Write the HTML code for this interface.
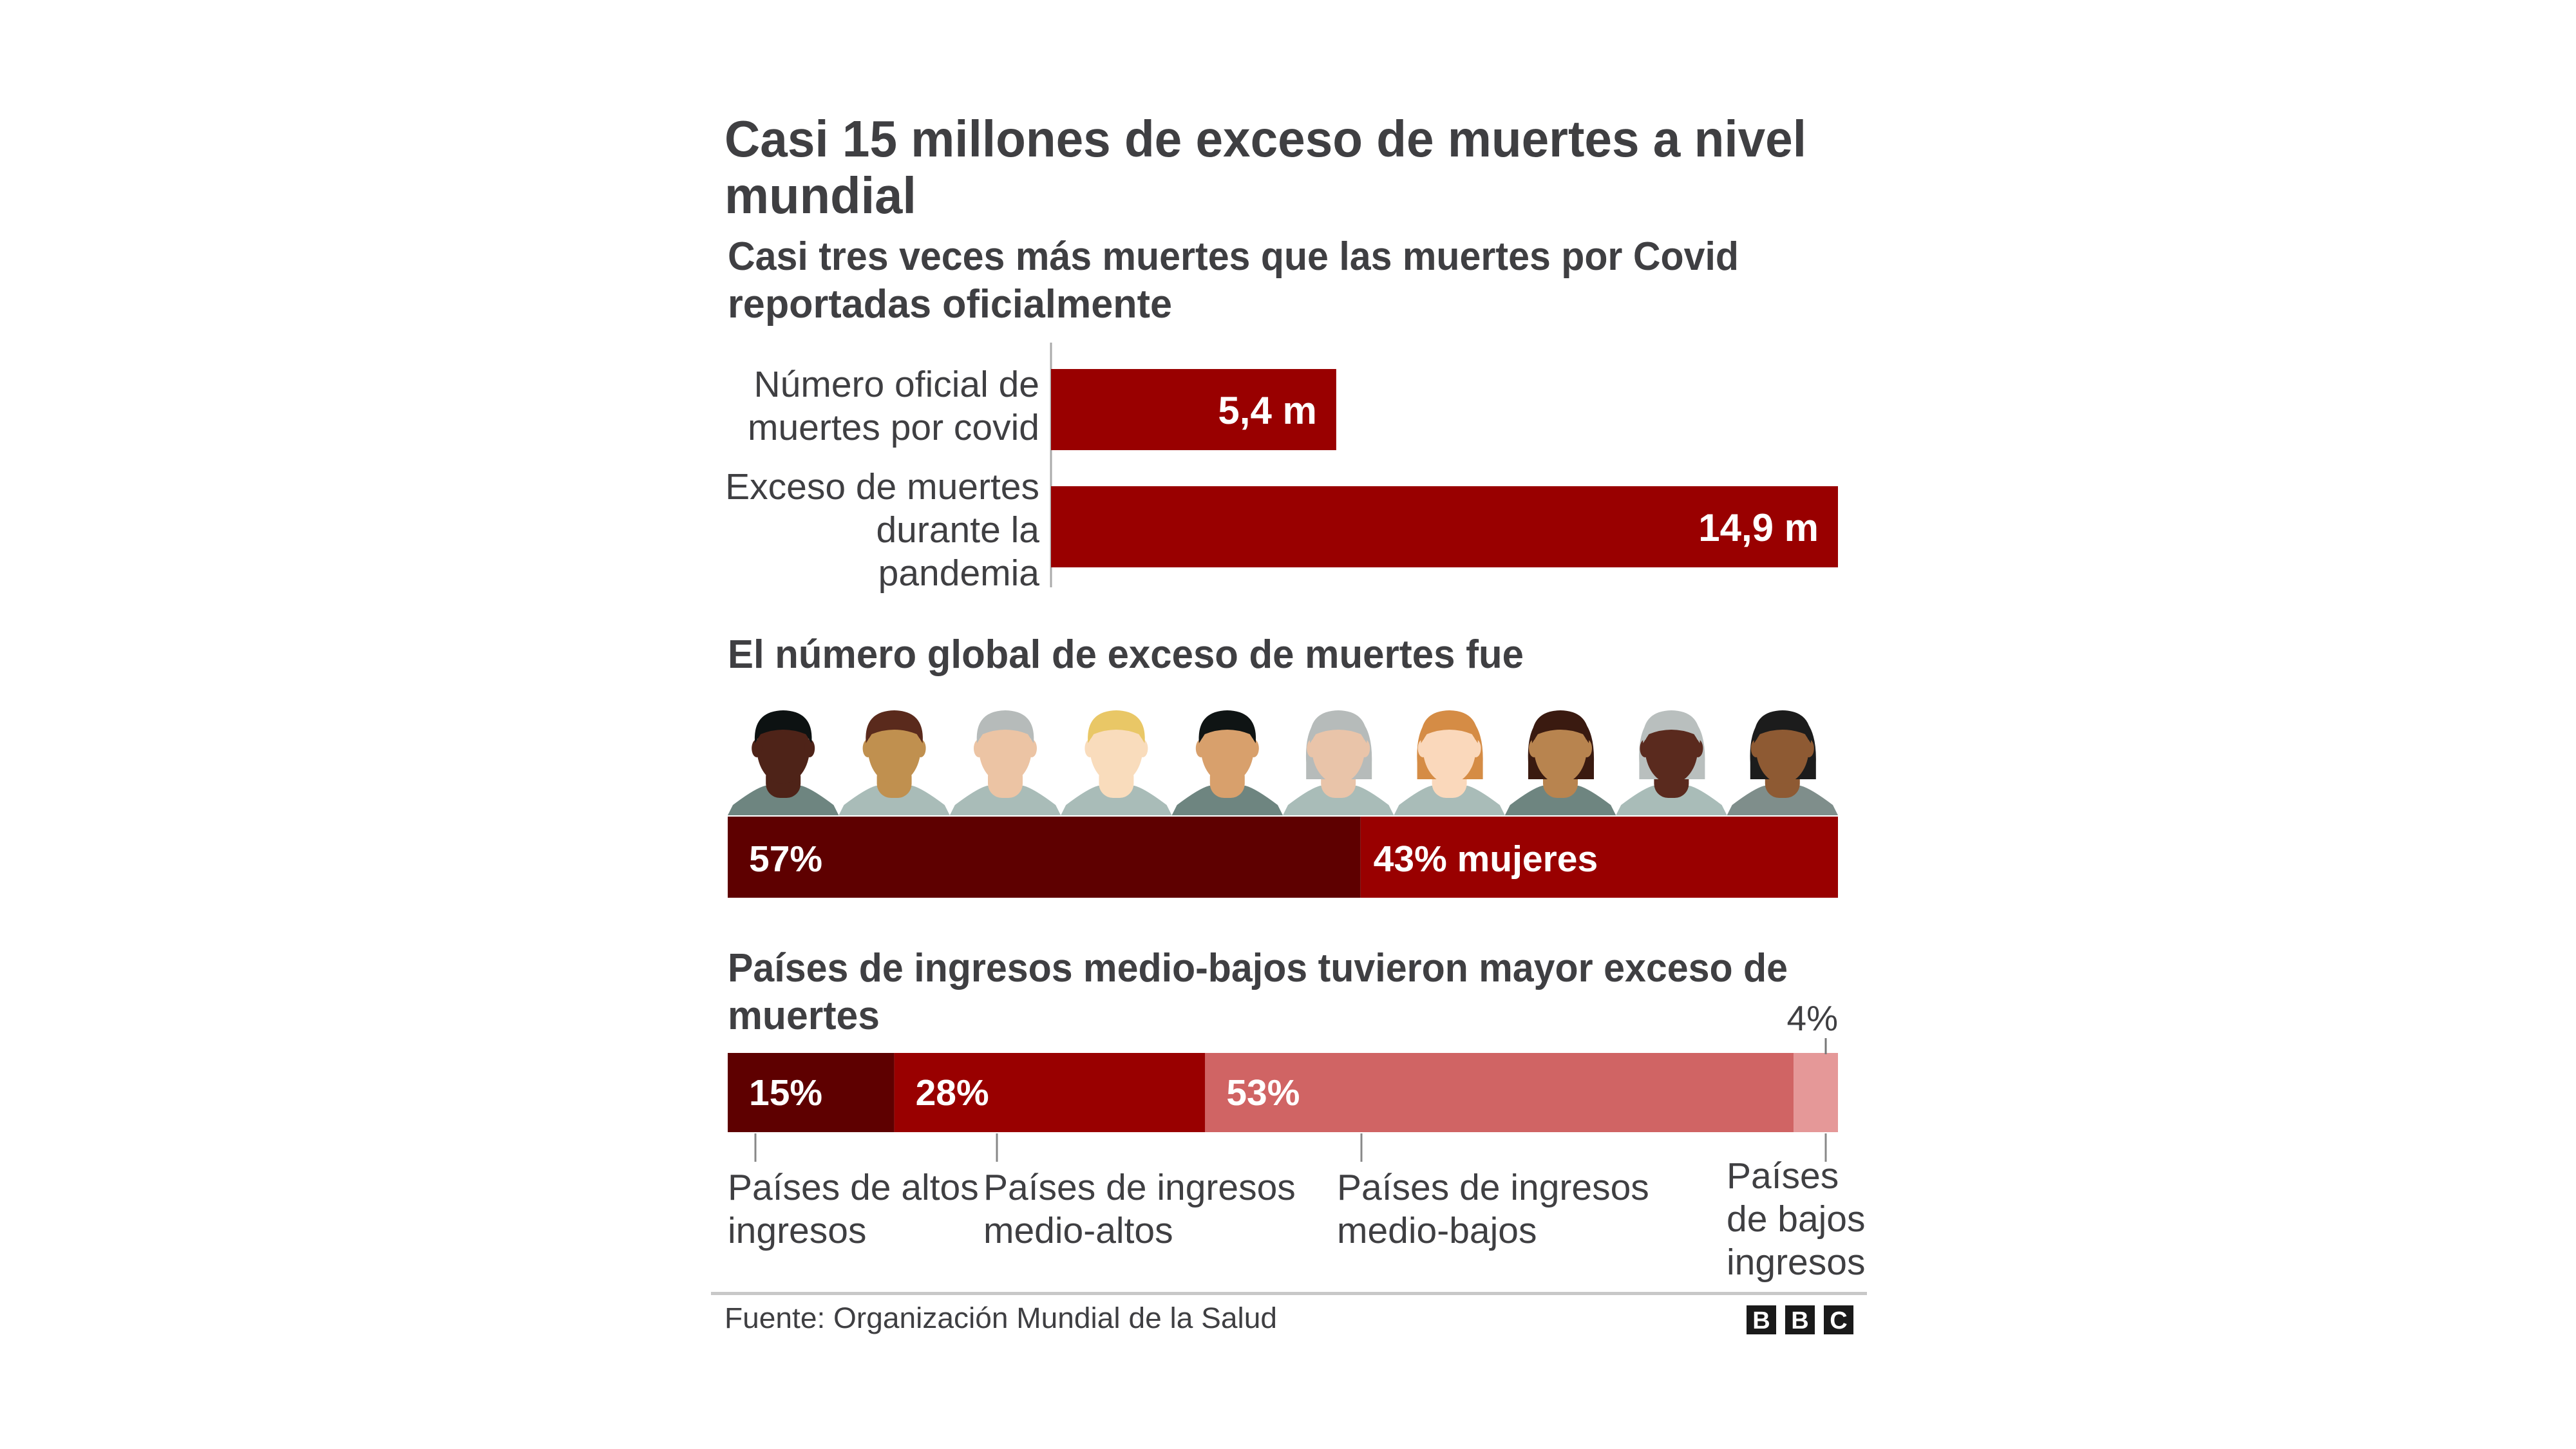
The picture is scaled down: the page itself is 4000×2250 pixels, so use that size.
<!DOCTYPE html>
<html><head><meta charset="utf-8"><style>
html,body{margin:0;padding:0;background:#fff;width:4000px;height:2250px;overflow:hidden}
svg text{font-family:"Liberation Sans",sans-serif}
</style></head><body>
<svg id="chart" width="4000" height="2250" viewBox="0 0 4000 2250" xmlns="http://www.w3.org/2000/svg">
<rect width="4000" height="2250" fill="#fff"/>
<g transform="translate(-6,-6)">
<g fill="#3f3f42" font-weight="bold" font-size="80">
<text x="1131" y="249" textLength="1680" lengthAdjust="spacingAndGlyphs">Casi 15 millones de exceso de muertes a nivel</text>
<text x="1131" y="337" textLength="298" lengthAdjust="spacingAndGlyphs">mundial</text>
</g>
<g fill="#3f3f42" font-weight="bold" font-size="62">
<text x="1136" y="425" textLength="1570" lengthAdjust="spacingAndGlyphs">Casi tres veces más muertes que las muertes por Covid</text>
<text x="1136" y="499" textLength="690" lengthAdjust="spacingAndGlyphs">reportadas oficialmente</text>
</g>
<g id="covid"></g>
<text x="1136" y="1043" fill="#3f3f42" font-weight="bold" font-size="62" textLength="1236" lengthAdjust="spacingAndGlyphs">El número global de exceso de muertes fue</text>
<g id="heads"></g>
<g id="gender"></g>
<g fill="#3f3f42" font-weight="bold" font-size="62">
<text x="1136" y="1530" textLength="1646" lengthAdjust="spacingAndGlyphs">Países de ingresos medio-bajos tuvieron mayor exceso de</text>
<text x="1136" y="1604" textLength="236" lengthAdjust="spacingAndGlyphs">muertes</text>
</g>
<g id="income"></g>
<rect x="1110" y="2012" width="1795" height="5" fill="#c8c8c8"/>
<text x="1131" y="2068" fill="#3f3f42" font-size="45" textLength="858" lengthAdjust="spacingAndGlyphs">Fuente: Organización Mundial de la Salud</text>
<g font-weight="bold" font-size="38" fill="#fff" text-anchor="middle">
<rect x="2718" y="2033" width="46" height="45" fill="#1a1a1a"/><text x="2741" y="2069">B</text>
<rect x="2778" y="2033" width="46" height="45" fill="#1a1a1a"/><text x="2801" y="2069">B</text>
<rect x="2838" y="2033" width="46" height="45" fill="#1a1a1a"/><text x="2861" y="2069">C</text>
</g>
</g>
</svg>
<script>
const covidCategories = [["Número oficial de","muertes por covid"],["Exceso de muertes","durante la","pandemia"]];
const covidValues = [5.4, 14.9];
const covidValueLabels = ["5,4 m","14,9 m"];
const genderShares = [57, 43];
const genderLabels = ["57%","43% mujeres"];
const incomeShares = [15, 28, 53, 4];
const incomeValueLabels = ["15%","28%","53%","4%"];
const incomeCategories = [["Países de altos","ingresos"],["Países de ingresos","medio-altos"],["Países de ingresos","medio-bajos"],["Países","de bajos","ingresos"]];

const NS="http://www.w3.org/2000/svg";
function mk(tag,attrs,parent){const e=document.createElementNS(NS,tag);for(const k in attrs)e.setAttribute(k,attrs[k]);parent.appendChild(e);return e;}

// covid chart
const cg=document.getElementById('covid');
const X0=1638, XMAX=2860, covMax=14.9;
const xCov=v=>X0+(v/covMax)*(XMAX-X0);
const barTops=[579,761], barH=126;
const ax=mk('line',{x1:X0,y1:538,x2:X0,y2:918,stroke:'#aaa','stroke-width':3},cg);


covidValues.forEach((v,i)=>{
  const r=mk('rect',{x:X0,y:barTops[i],width:xCov(v)-X0,height:barH,fill:'#990000'},cg);
  
  
  const t=mk('text',{x:xCov(v)-30,y:barTops[i]+85,fill:'#fff','font-weight':'bold','font-size':60,'text-anchor':'end'},cg);
  t.textContent=covidValueLabels[i];
  
  
  const lines=covidCategories[i];
  const firstBase = i===0 ? 622 : 781;
  lines.forEach((ln,j)=>{
    const lt=mk('text',{x:1620,y:firstBase+j*67,fill:'#3f3f42','font-size':57,'text-anchor':'end'},cg);
    lt.textContent=ln;
    
    
  });
});

// heads
const hg=document.getElementById('heads');
const skins=['#4e2318','#c0904f','#ecc4a4','#f9dcbc','#d8a06c','#e9c4a9','#fad8bb','#b8844f','#5a2a1e','#8e5a33'];
const hairs=['#0d1212','#5a2a1c','#b6bbba','#e9c766','#0f1414','#b6bbba','#d58c45','#3a1a10','#b9bfbe','#1c1c1c'];
const shirts=['#6e8580','#a9bcb8','#a9bcb8','#a9bcb8','#6e8580','#a9bcb8','#a9bcb8','#6e8580','#a9bcb8','#7f8e8b'];
const cellW=(2860-1136)/10;
for(let i=0;i<10;i++){
  const x=1136+i*cellW, cx=x+cellW/2;
  const g=mk('g',{},hg);
  
  
  mk('path',{d:`M${x} 1272 L${x+8} 1256 Q${cx-44} 1230 ${cx-28} 1226 L${cx+28} 1226 Q${cx+44} 1230 ${x+cellW-8} 1256 L${x+cellW} 1272 Z`,fill:shirts[i]},g);
  mk('rect',{x:cx-27,y:1190,width:54,height:55,rx:22,fill:skins[i]},g);
  const female=i>=5;
  if(female) mk('path',{d:`M${cx-50} 1190 Q${cx-54} 1112 ${cx} 1110 Q${cx+54} 1112 ${cx+52} 1190 L${cx+52} 1216 L${cx-50} 1216 Z`,fill:hairs[i]},g);
  mk('ellipse',{cx:cx,cy:1168,rx:41,ry:55,fill:skins[i]},g);
  mk('ellipse',{cx:cx-41,cy:1168,rx:8,ry:14,fill:skins[i]},g);
  mk('ellipse',{cx:cx+41,cy:1168,rx:8,ry:14,fill:skins[i]},g);
  mk('path',{d:`M${cx-44} 1160 Q${cx-48} 1110 ${cx} 1109 Q${cx+48} 1110 ${cx+44} 1160 L${cx+35} 1146 Q${cx} 1132 ${cx-35} 1146 Z`,fill:hairs[i]},g);
}

// gender bar
const gg=document.getElementById('gender');
const BX0=1136, BX1=2860;
const xPct=p=>BX0+(p/100)*(BX1-BX0);
const gCols=['#5e0000','#990000'];
let acc=0;
genderShares.forEach((s,i)=>{
  const r=mk('rect',{x:xPct(acc),y:1274,width:xPct(acc+s)-xPct(acc),height:126,fill:gCols[i]},gg);
  
  
  const t=mk('text',{x:xPct(acc)+(i===0?33:20),y:1359,fill:'#fff','font-weight':'bold','font-size':57},gg);
  t.textContent=genderLabels[i];
  
  
  acc+=s;
});

// income bar
const ig=document.getElementById('income');
const iCols=['#5e0000','#990000','#d06464','#e59898'];
const labelX=[1136,1533,2082,2687];
const tickX=[1179,1554,2120,2841];
const lastLabelFirstBase=1851;
acc=0;
incomeShares.forEach((s,i)=>{
  const r=mk('rect',{x:xPct(acc),y:1641,width:xPct(acc+s)-xPct(acc),height:123,fill:iCols[i]},ig);
  
  
  let t;
  if(i<3){
    t=mk('text',{x:xPct(acc)+33,y:1722,fill:'#fff','font-weight':'bold','font-size':57},ig);
  } else {
    t=mk('text',{x:BX1,y:1606,fill:'#3f3f42','font-size':55,'text-anchor':'end'},ig);
    const tl=mk('line',{x1:tickX[i],y1:1618,x2:tickX[i],y2:1643,stroke:'#777','stroke-width':3},ig);
    
    
  }
  t.textContent=incomeValueLabels[i];
  
  
  const tk=mk('line',{x1:tickX[i],y1:1766,x2:tickX[i],y2:1810,stroke:'#888','stroke-width':3},ig);
  
  
  const base = i===3 ? lastLabelFirstBase : 1869;
  incomeCategories[i].forEach((ln,j)=>{
    const lt=mk('text',{x:labelX[i],y:base+j*67,fill:'#3f3f42','font-size':57},ig);
    lt.textContent=ln;
    
    
  });
  acc+=s;
});
</script>
</body></html>
